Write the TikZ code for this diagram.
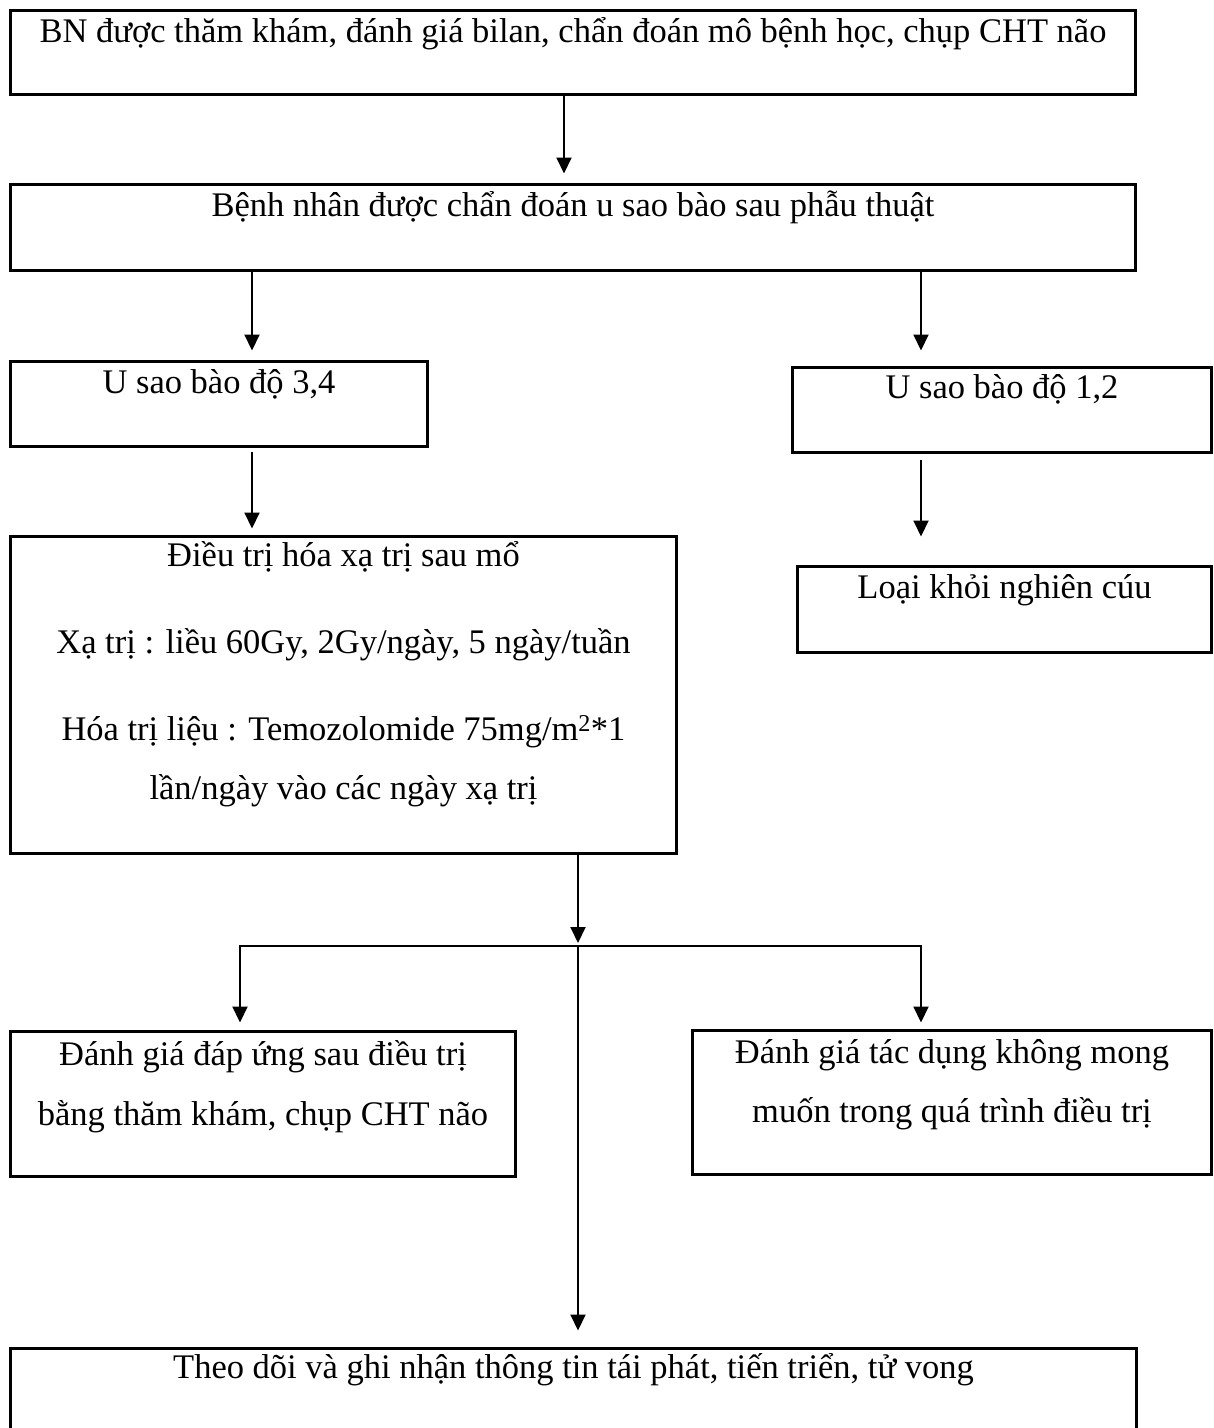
\documentclass[tikz,border=0pt]{standalone}
\usepackage{fontspec}
\setmainfont{Liberation Serif}
\usetikzlibrary{arrows.meta,calc}
\begin{document}
\begin{tikzpicture}[x=1pt,y=-1pt,
  box/.style={draw, line width=2.6pt, rectangle, inner sep=0pt, outer sep=0pt, anchor=north west},
  txt/.style={inner sep=0pt, anchor=base, font=\fontsize{34.5}{40}\selectfont},
  arr/.style={line width=2pt, -{Triangle[length=16pt,width=15pt]}},
  ln/.style={line width=2pt}]
\clip (0,0) rectangle (1214,1428);
\fill[white] (0,0) rectangle (1214,1428);

% boxes
\node[box, minimum width=1125pt, minimum height=84pt] (b1) at (10.5,10.5) {};
\node[box, minimum width=1125pt, minimum height=86pt] (b2) at (10.5,184.5) {};
\node[box, minimum width=417pt, minimum height=85pt] (b3) at (10.5,361.5) {};
\node[box, minimum width=419pt, minimum height=85pt] (b4) at (792.5,367.5) {};
\node[box, minimum width=666pt, minimum height=317pt] (b5) at (10.5,536.5) {};
\node[box, minimum width=414pt, minimum height=86pt] (b6) at (797.5,566.5) {};
\node[box, minimum width=505pt, minimum height=145pt] (b7) at (10.5,1031.5) {};
\node[box, minimum width=519pt, minimum height=144pt] (b8) at (692.5,1030.5) {};
\node[box, minimum width=1126pt, minimum height=100pt] (b9) at (10.5,1348.5) {};

% texts
\node[txt] (t1) at ($(b1.north)+(0,32)$) {BN được thăm khám, đánh giá bilan, chẩn đoán mô bệnh học, chụp CHT não};
\node[txt] (t2) at ($(b2.north)+(0,32)$) {Bệnh nhân được chẩn đoán u sao bào sau phẫu thuật};
\node[txt] (t3) at ($(b3.north)+(0,32)$) {U sao bào độ 3,4};
\node[txt] (t4) at ($(b4.north)+(0,31)$) {U sao bào độ 1,2};
\node[txt] (t5a) at ($(b5.north)+(0,30)$) {Điều trị hóa xạ trị sau mổ};
\node[txt] (t5b) at ($(b5.north)+(0,117)$) {Xạ trị : liều 60Gy, 2Gy/ngày, 5 ngày/tuần};
\node[txt] (t5c) at ($(b5.north)+(0,204)$) {Hóa trị liệu : Temozolomide 75mg/m\textsuperscript{2}*1};
\node[txt] (t5d) at ($(b5.north)+(0,263)$) {lần/ngày vào các ngày xạ trị};
\node[txt] (t6) at ($(b6.north)+(0,32)$) {Loại khỏi nghiên cúu};
\node[txt] (t7a) at ($(b7.north)+(0,34)$) {Đánh giá đáp ứng sau điều trị};
\node[txt] (t7b) at ($(b7.north)+(0,94)$) {bằng thăm khám, chụp CHT não};
\node[txt] (t8a) at ($(b8.north)+(0,33)$) {Đánh giá tác dụng không mong};
\node[txt] (t8b) at ($(b8.north)+(0,92)$) {muốn trong quá trình điều trị};
\node[txt] (t9) at ($(b9.north)+(0,30)$) {Theo dõi và ghi nhận thông tin tái phát, tiến triển, tử vong};

% connectors
\draw[arr] ($(b1.south west)+(553.5,0)$) -- ($(b2.north west)+(553.5,-11)$);
\draw[arr] ($(b2.south west)+(241.5,0)$) -- ($(b3.north west)+(241.5,-11)$);
\draw[arr] ($(b2.south west)+(910.5,0)$) -- ($(b4.north west)+(128.5,-17)$);
\draw[arr] ($(b3.south west)+(241.5,5)$) -- ($(b5.north west)+(241.5,-8)$);
\draw[arr] ($(b4.south west)+(128.5,7)$) -- ($(b6.north west)+(123.5,-30)$);

\coordinate (j) at (578,946);
\coordinate (jl) at (240,946);
\coordinate (jr) at (921,946);

\draw[arr] ($(b5.south west)+(567.5,0)$) -- ($(j)+(0,-3)$);
\draw[arr] (j) -- (jl) -- ($(b7.north west)+(229.5,-9)$);
\draw[arr] (j) -- (jr) -- ($(b8.north west)+(228.5,-8)$);
\draw[arr] (j) -- ($(b9.north west)+(567.5,-18)$);
\end{tikzpicture}
\end{document}
